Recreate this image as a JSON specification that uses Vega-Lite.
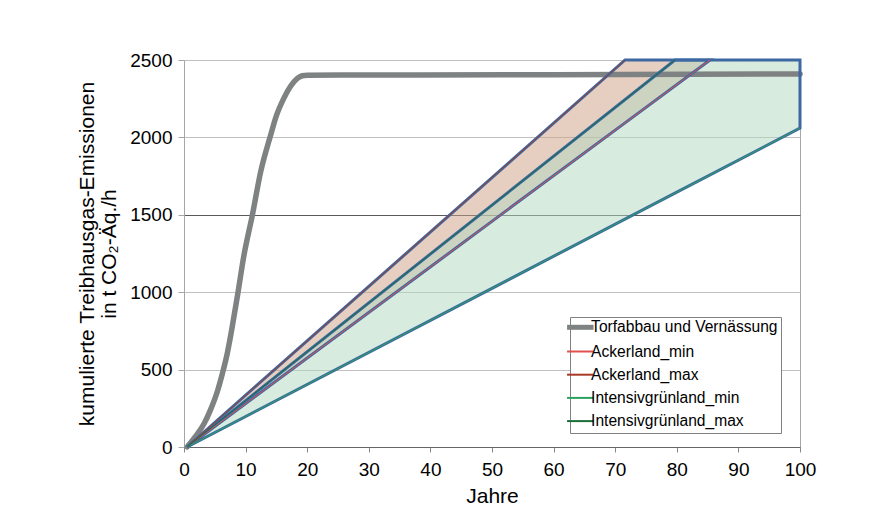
{
  "$schema": "https://vega.github.io/schema/vega-lite/v6.json",
  "width": 616,
  "height": 387,
  "autosize": "none",
  "padding": {"left": 184, "top": 60, "right": 85, "bottom": 84},
  "background": "white",
  "config": {
    "font": "Liberation Sans",
    "view": {"stroke": "#a6a6a6", "strokeWidth": 1}
  },
  "datasets": {
    "lines": [
      {"series": "Torfabbau und Vernässung", "x": 0.5, "y": 0},
      {"series": "Torfabbau und Vernässung", "x": 1.9, "y": 70},
      {"series": "Torfabbau und Vernässung", "x": 3.25, "y": 150},
      {"series": "Torfabbau und Vernässung", "x": 4.3, "y": 240},
      {"series": "Torfabbau und Vernässung", "x": 5.4, "y": 357},
      {"series": "Torfabbau und Vernässung", "x": 6.2, "y": 470},
      {"series": "Torfabbau und Vernässung", "x": 7.0, "y": 600},
      {"series": "Torfabbau und Vernässung", "x": 7.8, "y": 770},
      {"series": "Torfabbau und Vernässung", "x": 8.7, "y": 982},
      {"series": "Torfabbau und Vernässung", "x": 9.74, "y": 1240},
      {"series": "Torfabbau und Vernässung", "x": 11.1, "y": 1499},
      {"series": "Torfabbau und Vernässung", "x": 12.45, "y": 1778},
      {"series": "Torfabbau und Vernässung", "x": 14.07, "y": 2015},
      {"series": "Torfabbau und Vernässung", "x": 15.0, "y": 2140},
      {"series": "Torfabbau und Vernässung", "x": 16.2, "y": 2252},
      {"series": "Torfabbau und Vernässung", "x": 17.3, "y": 2330},
      {"series": "Torfabbau und Vernässung", "x": 18.4, "y": 2381},
      {"series": "Torfabbau und Vernässung", "x": 19.2, "y": 2398},
      {"series": "Torfabbau und Vernässung", "x": 20, "y": 2402},
      {"series": "Torfabbau und Vernässung", "x": 60, "y": 2405},
      {"series": "Torfabbau und Vernässung", "x": 100, "y": 2410},
      {"series": "Ackerland_min", "x": 0.5, "y": 0},
      {"series": "Ackerland_min", "x": 85.4, "y": 2500},
      {"series": "Ackerland_max", "x": 0.5, "y": 0},
      {"series": "Ackerland_max", "x": 71.6, "y": 2500},
      {"series": "Intensivgrünland_min", "x": 0.5, "y": 0},
      {"series": "Intensivgrünland_min", "x": 100, "y": 2060},
      {"series": "Intensivgrünland_max", "x": 0.5, "y": 0},
      {"series": "Intensivgrünland_max", "x": 79.7, "y": 2500}
    ],
    "areas": [
      {"group": "Ackerland", "x": 0.5, "y": 0, "y2": 0},
      {"group": "Ackerland", "x": 71.6, "y": 2500, "y2": 2094},
      {"group": "Ackerland", "x": 85.4, "y": 2500, "y2": 2500},
      {"group": "Intensivgrünland", "x": 0.5, "y": 0, "y2": 0},
      {"group": "Intensivgrünland", "x": 79.7, "y": 2500, "y2": 1640},
      {"group": "Intensivgrünland", "x": 100, "y": 2500, "y2": 2060}
    ]
  },
  "encoding": {
    "x": {
      "field": "x", "type": "quantitative",
      "scale": {"domain": [0, 100], "nice": false, "zero": false},
      "axis": {
        "title": "Jahre", "values": [0, 10, 20, 30, 40, 50, 60, 70, 80, 90, 100],
        "grid": false, "domainColor": "#666666", "tickColor": "#888888", "tickSize": 5,
        "labelFontSize": 19, "labelColor": "#000000", "labelPadding": 8, "labelFlush": false,
        "titleFontSize": 21, "titleFontWeight": "normal", "titleColor": "#000000", "titlePadding": 6
      }
    },
    "y": {
      "field": "y", "type": "quantitative",
      "scale": {"domain": [0, 2500], "nice": false},
      "axis": {
        "title": ["kumulierte Treibhausgas-Emissionen", "in t CO₂-Äq./h"],
        "values": [0, 500, 1000, 1500, 2000, 2500],
        "format": "d",
        "grid": true,
        "gridColor": {"condition": {"test": "datum.value === 1500", "value": "#5a5a5a"}, "value": "#c0c0c0"},
        "domainColor": "#a6a6a6", "tickColor": "#a6a6a6", "tickSize": 6,
        "labelFontSize": 19, "labelColor": "#000000", "labelPadding": 6,
        "titleFontSize": 21, "titleFontWeight": "normal", "titleColor": "#000000",
        "titlePadding": 10, "titleLineHeight": 22
      }
    }
  },
  "layer": [
    {
      "data": {"name": "areas"},
      "mark": {"type": "area", "fillOpacity": 0.5},
      "encoding": {
        "y2": {"field": "y2"},
        "fill": {
          "field": "group", "type": "nominal",
          "scale": {"domain": ["Ackerland", "Intensivgrünland"], "range": ["#cd9f81", "#b1d7bf"]},
          "legend": null
        }
      }
    },
    {
      "data": {"name": "lines"},
      "transform": [{"filter": "datum.series === 'Torfabbau und Vernässung'"}],
      "mark": {"type": "line", "strokeWidth": 5.5, "strokeJoin": "round", "strokeCap": "round", "interpolate": "monotone"},
      "encoding": {
        "stroke": {
          "field": "series", "type": "nominal",
          "scale": {
            "domain": ["Torfabbau und Vernässung", "Ackerland_min", "Ackerland_max", "Intensivgrünland_min", "Intensivgrünland_max"],
            "range": ["#7f8282", "#e0524f", "#a83a26", "#2ca25f", "#1b6e3a"]
          },
          "legend": {
            "title": null, "orient": "none", "legendX": 386, "legendY": 257,
            "symbolType": "stroke", "symbolSize": 700, "symbolStrokeWidth": 2,
            "labelFontSize": 15.6, "labelColor": "#000000", "labelOffset": 3, "labelLimit": 400,
            "rowPadding": 6.2, "padding": 2.5,
            "strokeColor": "#808080", "fillColor": "#ffffff",
            "encode": {"symbols": {"update": {"strokeWidth": {"signal": "datum.value === 'Torfabbau und Vernässung' ? 5 : 2"}}}}
          }
        }
      }
    },
    {
      "data": {"name": "areas"},
      "mark": {"type": "area", "fillOpacity": 0, "stroke": "#3d69a3", "strokeWidth": 3, "strokeJoin": "miter"},
      "encoding": {
        "y2": {"field": "y2"},
        "detail": {"field": "group", "type": "nominal"}
      }
    },
    {
      "data": {"name": "lines"},
      "transform": [{"filter": "datum.series !== 'Torfabbau und Vernässung'"}],
      "mark": {"type": "line", "strokeWidth": 1},
      "encoding": {
        "stroke": {"field": "series", "type": "nominal"}
      }
    }
  ]
}
